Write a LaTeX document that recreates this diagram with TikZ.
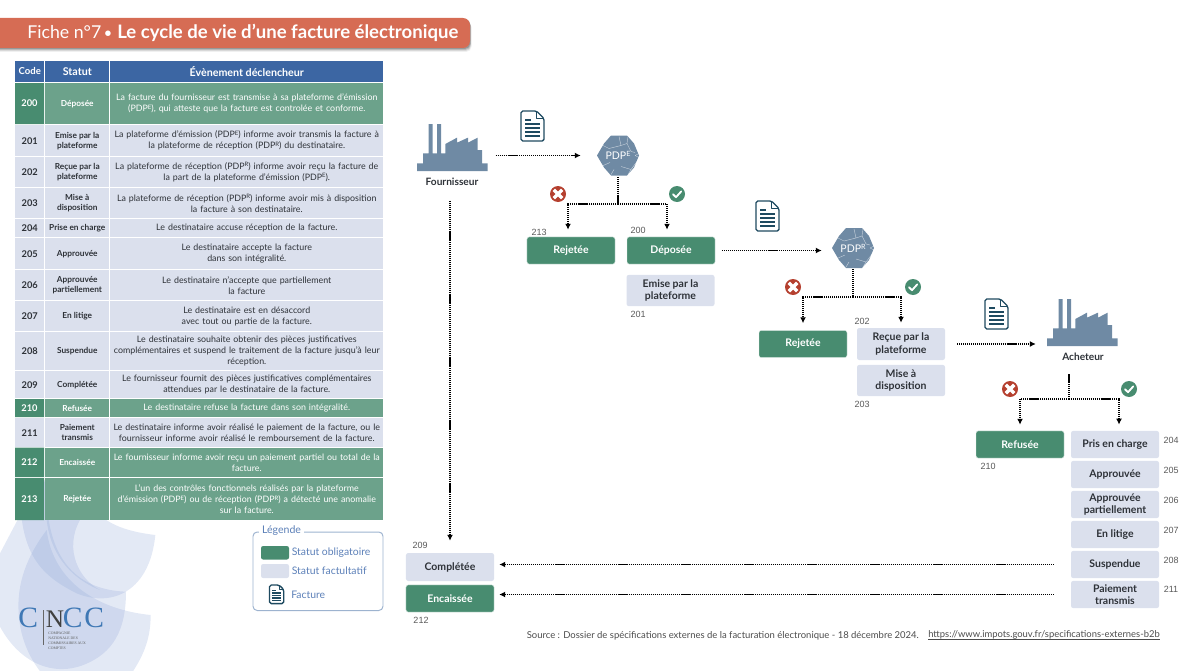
\documentclass[tikz,border=0pt]{standalone}
\usepackage{fontspec}
\setmainfont{Lato}
\newfontfamily\numfont{Liberation Sans}
\newfontfamily\logofont{Liberation Serif}
\usetikzlibrary{arrows.meta,calc,shapes.geometric}
\definecolor{grn}{HTML}{488C70}
\definecolor{grnrow}{HTML}{6CA28B}
\definecolor{lite}{HTML}{DBE0ED}
\definecolor{hdr}{HTML}{3C66A3}
\definecolor{banner}{HTML}{D66C54}
\definecolor{slate}{HTML}{6F8AA4}
\definecolor{navy}{HTML}{1E4A60}
\definecolor{ink}{HTML}{2E3238}
\definecolor{xred}{HTML}{B5402F}
\definecolor{leg}{HTML}{5C80B8}
\definecolor{legline}{HTML}{9DB3CF}
\definecolor{leaf}{HTML}{8CA3D6}
\definecolor{cncc}{HTML}{3F78B5}
\newcommand\fsz[1]{\fontsize{#1}{#1}\selectfont}
\newcommand\pE{PDP\raisebox{.55ex}{\scalebox{.68}{E}}}
\newcommand\pR{PDP\raisebox{.55ex}{\scalebox{.68}{R}}}
\tikzset{
  cell/.style={anchor=north west,inner sep=0pt,align=center,font=\fsz{6.3}\linespread{1.24}\selectfont,text=ink},
  stat/.style={rounded corners=1.6pt,minimum width=2.2cm,inner sep=0pt,align=center,font=\fsz{7.45}\bfseries\linespread{1.2}\selectfont},
  must/.style={stat,fill=grn,text=white,draw=white!85!grn,line width=.3pt,minimum height=.68cm},
  opt/.style={stat,fill=lite,text=ink},
  num/.style={font=\numfont\fsz{6.4},text=black!65,inner sep=0pt},
  flow/.style={dash pattern=on .8pt off .6pt,line width=.85pt,black,-{Latex[length=4.2pt,width=4.2pt]}},
  flowline/.style={dash pattern=on .8pt off .6pt,line width=.85pt,black},
  hexa/.style={circle,minimum size=1.05cm,inner sep=0pt,text=white,font=\fsz{7.5}},
  ghost/.style={inner sep=0pt,minimum width=1.77cm,minimum height=1.18cm},
  who/.style={font=\fsz{7.2}\bfseries,text=ink,inner sep=1pt},
  leafy/.style={fill=leaf,fill opacity=.24},
}
\newcommand\factory[2]{\begin{scope}[shift={(#1,#2)},scale=1/3]
 \fill[slate] (0,118) -- (212,118) -- (212,141) -- (0,141) -- cycle
 (18,88) -- (35,88) -- (35,0) -- (47,0) -- (47,88) -- (60,88) -- (60,0) -- (72,0) -- (72,88) -- (85,88) -- (85,60) -- (120,41) -- (120,56) -- (153,41) -- (153,56) -- (182,41) -- (182,78) -- (195,78) -- (195,118) -- (18,118) -- cycle;
\end{scope}}
\newcommand\docicon[3]{\begin{scope}[shift={(#1,#2)},scale=#3]
 \draw[navy,line width=.95pt,line join=round,rounded corners=1.2pt] (0,0) -- (15.5,0) -- (23,7.5) -- (23,30) -- (0,30) -- cycle;
 \draw[navy,line width=.8pt,line join=round] (15.5,0) -- (15.5,7.5) -- (23,7.5);
 \draw[navy,line width=.9pt] (4,9) -- (10,9) (4,13) -- (19,13) (4,17) -- (19,17) (4,21) -- (19,21) (4,25) -- (19,25);
\end{scope}}
\newcommand\badx[2]{\fill[xred] (#1,#2) circle (8);
 \draw[white,line width=2.5pt] (#1-4.2,#2-4.2) -- (#1+4.2,#2+4.2) (#1-4.2,#2+4.2) -- (#1+4.2,#2-4.2);}
\newcommand\goodv[2]{\fill[grn] (#1,#2) circle (8);
 \draw[white,line width=1.3pt,line cap=round,line join=round] (#1-4,#2+.3) -- (#1-1,#2+3.2) -- (#1+4.2,#2-2.6);}
\newcommand\hexback[2]{\begin{scope}[shift={(#1,#2)}]
 \fill[slate] (-7,-20) -- (9,-20) -- (16,-12) -- (21,0) -- (16,12) -- (9,20) -- (-7,20) -- (-14,12) -- (-21,0) -- (-14,-12) -- cycle;
 \draw[white,line width=.3pt,opacity=.6] (-17,-11) -- (-9,-7) -- (3,-10) -- (9,-12) (3,-10) -- (1,-19) (9,-12) -- (13,-4) -- (17,-3) (9,-12) -- (10,-19)
 (17,0) -- (21,2) (17,0) -- (21,-2) (-17,11) -- (-8,7) (3,11) -- (13,14) -- (19,6) (13,14) -- (10,19) (-7,19) -- (-4,14);
\end{scope}}
\newcommand\trow[8]{% name, top, bottom, code, status, text, row colour, text colour
 \node[cell,fill=#7,fill opacity=\ifx#7grnrow .93\else 1\fi,text opacity=1,minimum width=29*0.025cm,minimum height=(#3-#2)*0.025cm,font=\fsz{6.6}\bfseries,text=#8] (c#1) at (15,#2) {#4};
 \node[cell,fill=#7,fill opacity=\ifx#7grnrow .93\else 1\fi,text opacity=1,minimum width=64*0.025cm,minimum height=(#3-#2)*0.025cm,font=\fsz{5.9}\bfseries\linespread{1.22}\selectfont,text=#8] (s#1) at (45,#2) {#5};
 \node[cell,fill=#7,fill opacity=\ifx#7grnrow .93\else 1\fi,text opacity=1,minimum width=273*0.025cm,minimum height=(#3-#2)*0.025cm,text width=273*0.025cm,text=#8] (e#1) at (110,#2) {#6};}
\begin{document}
\begin{tikzpicture}[x=0.025cm,y=-0.025cm]
\useasboundingbox (0,0) rectangle (1200,670);
\begin{scope}
\clip (0,0) rectangle (1200,670);
% logo leaves (coordinates taken at 3x)
\begin{scope}[shift={(0,510)},scale=1/3]
 \fill[leafy] (60,-90) .. controls (55,120) and (110,190) .. (230,250) .. controls (340,295) and (450,240) .. (466,75) .. controls (340,60) and (270,20) .. (230,-90) -- cycle;
 \fill[leafy] (100,-60) -- (0,130) -- (0,350) .. controls (60,460) and (160,500) .. (250,465) .. controls (340,430) and (378,360) .. (378,245) .. controls (250,240) and (130,170) .. (140,-90) -- cycle;
 \fill[leafy] (140,60) .. controls (80,140) and (50,220) .. (56,310) .. controls (60,380) and (85,440) .. (125,490) -- (395,490) .. controls (435,430) and (452,380) .. (452,315) .. controls (300,300) and (160,220) .. (140,60) -- cycle;
 \fill[leafy] (140,30) .. controls (150,120) and (200,200) .. (300,240) .. controls (240,210) and (190,120) .. (240,30) -- cycle;
\end{scope}
\end{scope}
% banner
\foreach \o/\a in {4/.06,3/.1,2/.14,1/.18}
 \fill[black,opacity=\a,rounded corners=4] (-5,18+\o) rectangle (470+.4*\o,48+\o);
\fill[banner,rounded corners=5] (-8,18) rectangle (470,48);
\node[anchor=base west,inner sep=0pt,text=white,font=\fsz{12.6}] (title) at (27,38.5) {Fiche n°7};
\node[anchor=base,inner sep=0pt,text=white,font=\fsz{9}\bfseries] (tbul) at (108,37.5) {•};
\node[anchor=base west,inner sep=0pt,text=white,font=\fsz{13.2}\bfseries] (title2) at (117,38.5) {Le cycle de vie d’une facture électronique};
% table
\node[cell,fill=hdr,minimum width=29*0.025cm,minimum height=21*0.025cm,font=\fsz{6.8}\bfseries,text=white] (h1) at (15,60.5) {Code};
\node[cell,fill=hdr,minimum width=64*0.025cm,minimum height=21*0.025cm,font=\fsz{7.6}\bfseries,text=white] (h2) at (45,60.5) {Statut};
\node[cell,fill=hdr,minimum width=273*0.025cm,minimum height=21*0.025cm,font=\fsz{7.6}\bfseries,text=white] (h3) at (110,60.5) {Évènement déclencheur};
\trow{200}{83}{124}{200}{Déposée}{La facture du fournisseur est transmise à sa plateforme d’émission\\(\pE), qui atteste que la facture est controlée et conforme.}{grnrow}{white}
\trow{201}{125}{156}{201}{Emise par la\\plateforme}{La plateforme d’émission (\pE) informe avoir transmis la facture à\\la plateforme de réception (\pR) du destinataire.}{lite}{ink}
\trow{202}{157}{187}{202}{Reçue par la\\plateforme}{La plateforme de réception (\pR) informe avoir reçu la facture de\\la part de la plateforme d’émission (\pE).}{lite}{ink}
\trow{203}{188}{218}{203}{Mise à\\disposition}{La plateforme de réception (\pR) informe avoir mis à disposition\\la facture à son destinataire.}{lite}{ink}
\trow{204}{219}{237}{204}{Prise en charge}{Le destinataire accuse réception de la facture.}{lite}{ink}
\trow{205}{238}{269}{205}{Approuvée}{Le destinataire accepte la facture\\dans son intégralité.}{lite}{ink}
\trow{206}{270}{300}{206}{Approuvée\\partiellement}{Le destinataire n’accepte que partiellement\\la facture}{lite}{ink}
\trow{207}{301}{331}{207}{En litige}{Le destinataire est en désaccord\\avec tout ou partie de la facture.}{lite}{ink}
\trow{208}{332}{370}{208}{Suspendue}{Le destinataire souhaite obtenir des pièces justificatives\\complémentaires et suspend le traitement de la facture jusqu’à leur\\réception.}{lite}{ink}
\trow{209}{371}{398}{209}{Complétée}{Le fournisseur fournit des pièces justificatives complémentaires\\attendues par le destinataire de la facture.}{lite}{ink}
\trow{210}{399}{417}{210}{Refusée}{Le destinataire refuse la facture dans son intégralité.}{grnrow}{white}
\trow{211}{418}{447}{211}{Paiement\\transmis}{Le destinataire informe avoir réalisé le paiement de la facture, ou le\\fournisseur informe avoir réalisé le remboursement de la facture.}{lite}{ink}
\trow{212}{447.5}{477}{212}{Encaissée}{Le fournisseur informe avoir reçu un paiement partiel ou total de la\\facture.}{grnrow}{white}
\trow{213}{478}{520}{213}{Rejetée}{L’un des contrôles fonctionnels réalisés par la plateforme\\d’émission (\pE) ou de réception (\pR) a détecté une anomalie\\sur la facture.}{grnrow}{white}
\fill[grn] (15,83) rectangle (44,124) (15,399) rectangle (44,417) (15,447.5) rectangle (44,477) (15,478) rectangle (44,520);
\node[font=\fsz{6.6}\bfseries,text=white,inner sep=0pt] (k200) at (29.5,103.5) {200};
\node[font=\fsz{6.6}\bfseries,text=white,inner sep=0pt] (k210) at (29.5,408) {210};
\node[font=\fsz{6.6}\bfseries,text=white,inner sep=0pt] (k212) at (29.5,462) {212};
\node[font=\fsz{6.6}\bfseries,text=white,inner sep=0pt] (k213) at (29.5,499) {213};
% legend
\draw[legline,line width=.7pt,rounded corners=3] (253,532) rectangle (383,610.5);
\node[fill=white,inner sep=2pt,text=leg,font=\fsz{7.5}] (legt) at (281.5,531) {Légende};
\fill[grn,rounded corners=1.5] (261,546) rectangle (289,559.5);
\fill[lite,rounded corners=1.5] (261,564) rectangle (289,578);
\node[anchor=west,inner sep=0pt,text=leg,font=\fsz{7.4}] (leg1) at (291.5,552.5) {Statut obligatoire};
\node[anchor=west,inner sep=0pt,text=leg,font=\fsz{7.4}] (leg2) at (291.5,571) {Statut factultatif};
\node[anchor=west,inner sep=0pt,text=leg,font=\fsz{7.4}] (leg3) at (291,594.5) {Facture};
\docicon{269.5}{585}{.62}
% CNCC logo
\node[anchor=base west,inner sep=0pt,text=cncc,font=\logofont\fsz{21}] (lc1) at (18,627) {C};
\node[anchor=base west,inner sep=0pt,text=black!75,font=\logofont\fsz{18}] (ln) at (45.5,627) {N};
\node[anchor=base west,inner sep=0pt,text=cncc,font=\logofont\fsz{21}] (lc2) at (62.5,627) {C};
\node[anchor=base west,inner sep=0pt,text=cncc,font=\logofont\fsz{21}] (lc3) at (84,627) {C};
\draw[black!60,line width=.8pt] (43.5,610) -- (43.5,645);
\node[anchor=north west,inner sep=0pt,align=left,text=black!65,font=\logofont\fsz{2.7}\linespread{1.25}\selectfont] (lt) at (48,632) {COMPAGNIE\\NATIONALE DES\\COMMISSAIRES AUX\\COMPTES};
% actors
\node[ghost] (fou) at (452,147.5) {};
\factory{417}{124}
\node[who] (lfou) at (452,181.5) {Fournisseur};
\node[ghost] (ach) at (1082.5,323) {};
\factory{1047}{299}
\node[who] (lach) at (1083,357) {Acheteur};
\hexback{618}{155.5}
\node[hexa] (pdpE) at (618,155.5) {\pE};
\hexback{853}{248}
\node[hexa] (pdpR) at (853,248) {\pR};
\docicon{521}{111}{1}
\docicon{756}{201}{1}
\docicon{985}{299}{1}
\badx{558}{194}\goodv{677}{194}
\badx{793}{287}\goodv{913}{287}
\badx{1010}{389}\goodv{1129}{389}
% boxes
\node[must] (rej1) at (571,250.5) {Rejetée};
\node[must] (dep) at (671,250.5) {Déposée};
\node[opt,minimum height=.78cm] (emi) at (670.5,290.5) {Emise par la\\plateforme};
\node[must] (rej2) at (803,344) {Rejetée};
\node[opt,minimum height=.8cm] (rec) at (901,344) {Reçue par la\\plateforme};
\node[opt,minimum height=.78cm] (mis) at (901,380.5) {Mise à\\disposition};
\node[must] (ref) at (1020,444.5) {Refusée};
\node[opt,minimum height=.68cm] (pri) at (1115,444.5) {Pris en charge};
\node[opt,minimum height=.68cm] (app) at (1115,474.5) {Approuvée};
\node[opt,minimum height=.68cm] (apa) at (1115,504.5) {Approuvée\\partiellement};
\node[opt,minimum height=.68cm] (lit) at (1115,534.5) {En litige};
\node[opt,minimum height=.68cm] (sus) at (1115,564.5) {Suspendue};
\node[opt,minimum height=.68cm] (pai) at (1115,594.5) {Paiement\\transmis};
\node[opt,minimum height=.7cm] (com) at (450,567) {Complétée};
\node[must] (enc) at (450,598.5) {Encaissée};
% numbers
\node[num] (n213) at (539,232) {213};
\node[num] (n200) at (638,230) {200};
\node[num] (n201) at (638,314.5) {201};
\node[num] (n202) at (862,321) {202};
\node[num] (n203) at (862,404) {203};
\node[num] (n210) at (988,466.5) {210};
\node[num] (n204) at (1171,440) {204};
\node[num] (n205) at (1171,470) {205};
\node[num] (n206) at (1171,500) {206};
\node[num] (n207) at (1171,530) {207};
\node[num] (n208) at (1171,560.5) {208};
\node[num] (n211) at (1171,589.5) {211};
\node[num] (n209) at (420,545.5) {209};
\node[num] (n212) at (421,620) {212};
% connectors
\coordinate (j1) at (618,204);
\coordinate (j2) at (853,297);
\coordinate (j3) at (1069,399);
\draw[flow,shorten <=.2cm,shorten >=.4cm] (fou.east |- pdpE) -- (pdpE.west);
\draw[flowline] (pdpE.south) -- (j1);
\draw[flow,shorten >=.175cm] (j1) -| ([xshift=-.075cm]rej1.north);
\draw[flow,shorten >=.175cm] (j1) -| ([xshift=-.1cm]dep.north);
\draw[flow,shorten <=.175cm,shorten >=.25cm] (dep.east) -- (dep.east -| pdpR.west);
\draw[flowline] (pdpR.south) -- (j2);
\draw[flow,shorten >=.175cm] (j2) -| (rej2.north);
\draw[flow,shorten >=.125cm] (j2) -| (rec.north);
\draw[flow,shorten <=.3cm,shorten >=.275cm] (rec.east) -- (rec.east -| ach.west);
\draw[flowline] ([yshift=-.3cm]lach.south -| j3) -- (j3);
\draw[flow,shorten >=.15cm] (j3) -| (ref.north);
\draw[flow,shorten >=.15cm] (j3) -| ([xshift=.1cm]pri.north);
\draw[flow,shorten <=.35cm,shorten >=.3cm] (lfou.south -| com.north) -- (com.north);
\draw[flow,shorten <=.425cm,shorten >=.125cm] (sus.west) -- (sus.west -| com.east);
\draw[flow,shorten <=.425cm,shorten >=.125cm] (pai.west) -- (pai.west -| enc.east);
% source
\node[anchor=base west,inner sep=0pt,text=black!70,font=\fsz{6.74}] (src) at (526.5,638.5) {Source : Dossier de spécifications externes de la facturation électronique - 18 décembre 2024.};
\node[anchor=base west,inner sep=0pt,text=black!70,font=\fsz{6.7}] (url) at (928,637.5) {https://www.impots.gouv.fr/specifications-externes-b2b};
\draw[black!70,line width=.3pt] (url.south west) -- (url.south east);
\end{tikzpicture}
\end{document}
